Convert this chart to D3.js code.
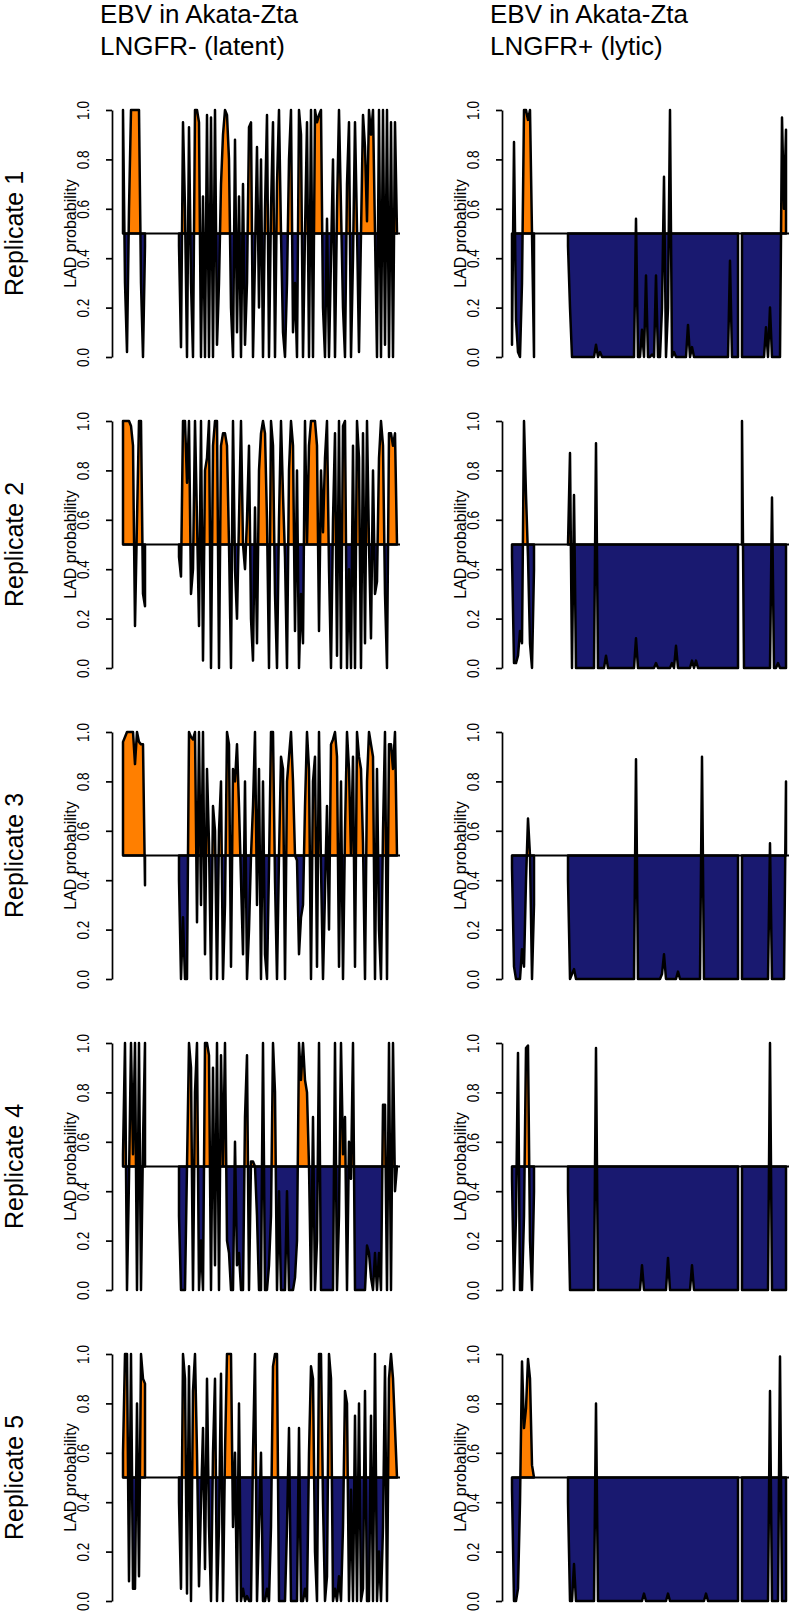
<!DOCTYPE html>
<html><head><meta charset="utf-8">
<script src="https://cdn.jsdelivr.net/npm/d3@7"></script>
<style>body{margin:0;background:#fff}svg{display:block}</style>
</head><body>
<script>
// ---------- data ----------
const columnTitles = [["EBV in Akata-Zta", "LNGFR- (latent)"], ["EBV in Akata-Zta", "LNGFR+ (lytic)"]];
const replicateLabels = ["Replicate 1", "Replicate 2", "Replicate 3", "Replicate 4", "Replicate 5"];
const yAxisLabel = "LAD probability";
const yTicks = [0, 0.2, 0.4, 0.6, 0.8, 1.0];
const threshold = 0.5;
const _ = null;

const latent1 = [
1.0,0.3,0.02,0.6,1.0,1.0,1.0,1.0,1.0,0.3,
0.0,0.45,_,_,_,_,_,_,_,_,
_,_,_,_,_,_,_,_,0.45,0.04,
0.95,0.6,0.0,0.93,0.3,0.0,1.0,1.0,0.95,0.0,
0.65,0.0,0.98,0.0,0.97,0.0,1.0,0.05,0.3,0.7,
0.9,1.0,0.98,0.8,0.2,0.0,0.88,0.1,0.65,0.0,
0.7,0.05,0.3,0.93,0.95,0.0,0.4,0.85,0.2,0.8,
0.0,0.6,0.98,0.0,0.6,0.95,0.0,0.7,1.0,0.5,
0.1,0.0,0.3,0.8,1.0,0.1,0.3,0.0,1.0,0.9,
0.0,0.5,0.95,0.0,1.0,0.0,1.0,0.95,0.98,1.0,
0.2,0.0,0.56,0.0,0.4,0.8,0.0,0.6,1.0,0.6,
0.2,0.0,0.7,0.95,0.0,0.4,0.95,0.52,0.02,0.5,
0.98,0.85,0.55,1.0,0.9,1.0,0.5,0.0,1.0,0.0,
1.0,0.05,1.0,0.0,0.95,0.0,0.95,0.5];

const latent2 = [
1.0,1.0,1.0,1.0,0.98,0.9,0.17,0.6,1.0,1.0,
0.3,0.25,_,_,_,_,_,_,_,_,
_,_,_,_,_,_,_,_,0.45,0.37,
1.0,1.0,0.75,1.0,0.3,0.4,1.0,0.6,0.17,1.0,
0.03,0.8,0.85,1.0,0.0,0.9,1.0,1.0,0.0,0.9,
0.95,0.95,0.9,0.5,0.0,1.0,0.4,0.2,0.6,1.0,
0.5,0.4,0.6,0.9,0.2,0.03,0.65,0.1,0.8,0.95,
1.0,0.95,0.6,0.0,1.0,0.9,0.3,0.0,0.6,1.0,
0.7,0.45,0.0,0.8,1.0,0.9,0.15,0.8,0.0,0.3,
0.1,1.0,0.5,0.9,1.0,1.0,1.0,0.9,0.15,0.8,
0.55,0.85,1.0,0.4,0.0,0.6,0.95,0.05,1.0,0.0,
0.98,1.0,0.0,0.4,0.0,0.9,0.0,1.0,0.85,0.0,
0.95,0.1,1.0,0.5,0.12,0.8,0.3,0.35,0.85,1.0,
0.9,0.3,0.0,0.95,0.95,0.9,0.95,0.5];

const latent3 = [
0.96,0.98,1.0,1.0,1.0,1.0,0.87,1.0,0.96,0.95,
0.95,0.38,_,_,_,_,_,_,_,_,
_,_,_,_,_,_,_,_,0.4,0.0,
0.25,0.0,0.0,1.0,0.98,0.97,1.0,0.23,1.0,0.3,
1.0,0.1,0.85,0.55,0.0,0.7,0.6,0.0,0.6,0.8,
0.0,0.3,1.0,0.95,0.05,0.85,0.8,0.95,0.7,0.4,
0.1,0.8,0.0,0.2,0.5,0.7,1.0,0.3,0.85,0.0,
0.8,0.1,0.0,0.45,1.0,1.0,0.4,0.0,0.5,0.9,
0.85,0.0,0.8,0.9,1.0,0.8,0.5,0.48,0.1,0.25,
0.3,0.7,1.0,0.85,0.0,0.8,0.9,0.05,1.0,0.45,
0.0,0.35,0.7,0.2,0.95,0.97,1.0,0.9,0.05,0.8,
0.0,0.6,1.0,0.85,0.5,0.9,0.05,1.0,0.9,0.85,
0.55,0.0,0.8,1.0,0.95,0.9,0.0,0.85,0.2,0.0,
0.6,1.0,0.0,0.95,0.95,0.85,1.0,0.5];

const latent4 = [
0.55,1.0,0.0,0.45,1.0,0.55,1.0,0.0,1.0,0.0,
0.6,1.0,_,_,_,_,_,_,_,_,
_,_,_,_,_,_,_,_,0.3,0.0,
0.0,0.0,0.5,1.0,0.9,0.0,0.8,1.0,0.0,0.2,
0.0,1.0,1.0,0.95,0.0,0.9,0.1,1.0,0.0,0.95,
0.5,1.0,0.2,0.15,0.0,0.0,0.6,0.1,0.15,0.0,
0.0,0.7,0.95,0.0,0.52,0.52,0.5,0.3,0.0,0.0,
1.0,0.0,0.0,0.1,0.3,1.0,0.8,0.0,0.4,0.0,
0.0,0.0,0.4,0.0,0.0,0.0,0.05,0.2,1.0,0.85,
1.0,0.85,0.8,0.5,0.0,0.7,0.0,0.2,1.0,0.0,
0.0,0.0,0.0,0.0,0.0,0.0,1.0,0.0,0.3,1.0,
0.55,0.7,0.0,0.6,0.45,1.0,0.0,0.0,0.0,0.0,
0.0,0.0,0.18,0.15,0.05,0.0,0.15,0.0,0.15,0.0,
0.75,0.75,0.0,1.0,0.0,1.0,0.4,0.5];

const latent5 = [
0.6,1.0,1.0,0.08,1.0,0.05,0.05,0.8,0.1,1.0,
0.9,0.88,_,_,_,_,_,_,_,_,
_,_,_,_,_,_,_,_,0.4,0.05,
1.0,0.9,0.03,0.95,0.0,0.85,1.0,0.6,0.06,0.4,
0.7,0.13,0.9,0.3,0.0,0.6,0.9,0.0,0.3,0.92,
0.0,0.6,1.0,1.0,1.0,0.3,0.6,0.0,0.8,0.0,
0.05,0.0,0.02,0.0,0.0,0.6,1.0,0.0,0.3,0.6,
0.0,0.0,0.05,0.0,0.3,0.95,1.0,1.0,0.0,0.0,
0.0,0.0,0.3,0.7,0.0,0.0,0.0,0.0,0.7,0.0,
0.0,0.05,0.0,0.6,0.95,0.9,0.2,0.0,1.0,1.0,
0.4,0.0,0.1,1.0,0.9,0.0,0.05,0.0,0.1,0.0,
0.3,0.85,0.8,0.0,0.45,0.0,0.75,0.0,0.8,0.0,
0.05,0.85,0.0,0.0,0.75,0.0,1.0,0.0,0.2,0.0,
0.3,0.95,0.0,0.9,1.0,0.9,0.7,0.5];

const lytic1 = [
0.05,0.87,0.15,0.02,0.0,0.3,1.0,1.0,0.96,1.0,
0.5,0.0,_,_,_,_,_,_,_,_,
_,_,_,_,_,_,_,_,0.45,0.2,
0,0,0,0,0,0,0,0,0,0,
0,0,0.05,0,0.02,0,0,0,0,0,
0,0,0,0,0,0,0,0,0,0,
0,0,0.56,0,0,0.11,0,0.33,0,0,
0.01,0,0.33,0,0,0.2,0.73,0,0.2,1.0,
0,0.02,0,0,0,0,0,0,0.13,0,
0.04,0,0,0,0,0,0,0,0,0,
0,0,0,0,0,0,0,0,0,0.39,
0,0,0,0,_,0,0,0,0,0,
0,0,0,0,0,0,0,0.12,0,0.2,
0,0,0,0,0,0.97,0.6,0.92];

const lytic2 = [
0.45,0.02,0.02,0.05,0.15,0.1,1.0,0.7,0.45,0.1,
0.0,0.4,_,_,_,_,_,_,_,_,
_,_,_,_,_,_,_,_,0.5,0.87,
0,0.7,0,0,0,0,0,0,0,0,
0,0,0.91,0,0,0,0,0.05,0,0,
0,0,0,0,0,0,0,0,0,0,
0,0,0.12,0,0,0,0,0,0,0,
0,0,0.02,0,0,0,0,0,0,0,
0.02,0,0.09,0,0,0,0,0,0,0,
0.03,0,0.03,0,0,0,0,0,0,0,
0,0,0,0,0,0,0,0,0,0,
0,0,0,0,_,1.0,0,0,0,0,
0,0,0,0,0,0,0,0,0,0,
0.69,0,0,0.02,0,0,0,0];

const lytic3 = [
0.45,0.05,0,0,0,0.12,0.05,0.4,0.65,0.5,
0.0,0.3,_,_,_,_,_,_,_,_,
_,_,_,_,_,_,_,_,0.4,0,
0.02,0.04,0,0,0,0,0,0,0,0,
0,0,0,0,0,0,0,0,0,0,
0,0,0,0,0,0,0,0,0,0,
0,0,0.89,0,0,0,0,0,0,0,
0,0,0,0,0,0.02,0.1,0,0,0,
0,0,0,0.03,0,0,0,0,0,0,
0,0,0,0,0,0.9,0,0,0,0,
0,0,0,0,0,0,0,0,0,0,
0,0,0,0,_,0,0,0,0,0,
0,0,0,0,0,0,0,0,0,0.55,
0,0,0,0,0,0,0,0.8];

const lytic4 = [
0.45,0,0.3,0.96,0,0,0.3,0.98,0.99,0.2,
0.0,0.4,_,_,_,_,_,_,_,_,
_,_,_,_,_,_,_,_,0.4,0,
0,0,0,0,0,0,0,0,0,0,
0,0,0.98,0,0,0,0,0,0,0,
0,0,0,0,0,0,0,0,0,0,
0,0,0,0,0,0.1,0,0,0,0,
0,0,0,0,0,0,0,0,0.13,0,
0,0,0,0,0,0,0,0,0,0,
0.1,0,0,0,0,0,0,0,0,0,
0,0,0,0,0,0,0,0,0,0,
0,0,0,0,_,0,0,0,0,0,
0,0,0,0,0,0,0,0,0,1.0,
0,0,0,0,0,0,0,0];

const lytic5 = [
0.45,0,0,0.05,0.4,0.97,0.7,0.78,0.98,0.9,
0.55,0.5,_,_,_,_,_,_,_,_,
_,_,_,_,_,_,_,_,0.4,0,
0,0.15,0,0,0,0,0,0,0,0,
0,0,0.8,0,0,0,0,0,0,0,
0,0,0,0,0,0,0,0,0,0,
0,0,0,0,0,0,0.03,0,0,0,
0,0,0,0,0,0,0,0,0.03,0,
0,0,0,0,0,0,0,0,0,0,
0,0,0,0,0,0,0,0.03,0,0,
0,0,0,0,0,0,0,0,0,0,
0,0,0,0,_,0,0,0,0,0,
0,0,0,0,0,0,0,0,0,0.85,
0,0,0,0,0.99,0,0,0];

const latentSeries = [latent1, latent2, latent3, latent4, latent5];
const lyticSeries = [lytic1, lytic2, lytic3, lytic4, lytic5];
const columns = [latentSeries, lyticSeries];

// ---------- drawing ----------
const W = 790, H = 1614;
const FONT = "'Liberation Sans', Arial, Helvetica, sans-serif";
const orange = "#FF7F00", navy = "#191970";
const panelTops = [110, 421, 732, 1043, 1354];
const panelH = 247;
const axisX = [112, 502];
const dataX0 = [123, 512];
const dataW = 277;
const nBinsDomain = 138.5;
const LW = 2.5;

const svg = d3.select("body").append("svg")
  .attr("width", W).attr("height", H)
  .style("font-family", FONT);

// column titles
columnTitles.forEach((lines, c) => {
  const t = svg.append("text").attr("font-size", 26).attr("fill", "#000");
  lines.forEach((s, i) => {
    t.append("tspan").attr("x", axisX[c] - 12).attr("y", 23 + i * 32).text(s);
  });
});

// replicate labels
replicateLabels.forEach((lab, r) => {
  const mid = panelTops[r] + panelH / 2;
  svg.append("text")
    .attr("transform", `translate(23,${mid}) rotate(-90)`)
    .attr("text-anchor", "middle").attr("font-size", 25).text(lab);
});

columns.forEach((series, c) => {
  series.forEach((vals, r) => {
    const top = panelTops[r];
    const y = d3.scaleLinear().domain([0, 1]).range([top + panelH, top]);
    const x = d3.scaleLinear().domain([0, nBinsDomain]).range([dataX0[c], dataX0[c] + dataW]);
    const g = svg.append("g");
    const id = `p${c}_${r}`;
    const ymid = y(threshold);

    const defs = g.append("defs");
    defs.append("clipPath").attr("id", id + "a").append("rect")
      .attr("x", x(0) - 5).attr("y", top - 5).attr("width", dataW + 10).attr("height", ymid - top + 5);
    defs.append("clipPath").attr("id", id + "b").append("rect")
      .attr("x", x(0) - 5).attr("y", ymid).attr("width", dataW + 10).attr("height", top + panelH - ymid + 5);

    const data = vals.map((v, i) => ({ i, v }));
    const area = d3.area()
      .defined(d => d.v !== null)
      .x(d => x(d.i))
      .y0(ymid)
      .y1(d => y(d.v));

    g.append("path").datum(data).attr("d", area)
      .attr("fill", orange).attr("clip-path", `url(#${id}a)`);
    g.append("path").datum(data).attr("d", area)
      .attr("fill", navy).attr("clip-path", `url(#${id}b)`);
    g.append("path").datum(data).attr("d", area)
      .attr("fill", "none").attr("stroke", "#000").attr("stroke-width", LW)
      .attr("stroke-linejoin", "round");

    // threshold line
    g.append("line")
      .attr("x1", x(0)).attr("x2", x(nBinsDomain))
      .attr("y1", ymid).attr("y2", ymid)
      .attr("stroke", "#000").attr("stroke-width", 2.2);

    // y axis
    const ax = g.append("g").attr("transform", `translate(${axisX[c]},0)`)
      .call(d3.axisLeft(y).tickValues(yTicks).tickFormat(d3.format(".1f"))
        .tickSize(6).tickSizeOuter(0));
    ax.select(".domain").attr("stroke", "#000").attr("stroke-width", 1.7);
    ax.selectAll(".tick line").attr("stroke", "#000").attr("stroke-width", 1.7);
    ax.selectAll(".tick text")
      .attr("transform", "rotate(-90) translate(0,-23) scale(1,1.2)")
      .attr("x", 0).attr("y", 0).attr("dy", 0)
      .attr("text-anchor", "middle")
      .attr("font-size", 13.5).attr("font-family", FONT).attr("fill", "#000");

    g.append("text")
      .attr("transform", `translate(${axisX[c] - 36},${top + panelH / 2}) rotate(-90)`)
      .attr("text-anchor", "middle").attr("font-size", 16).text(yAxisLabel);
  });
});
</script>
</body></html>
